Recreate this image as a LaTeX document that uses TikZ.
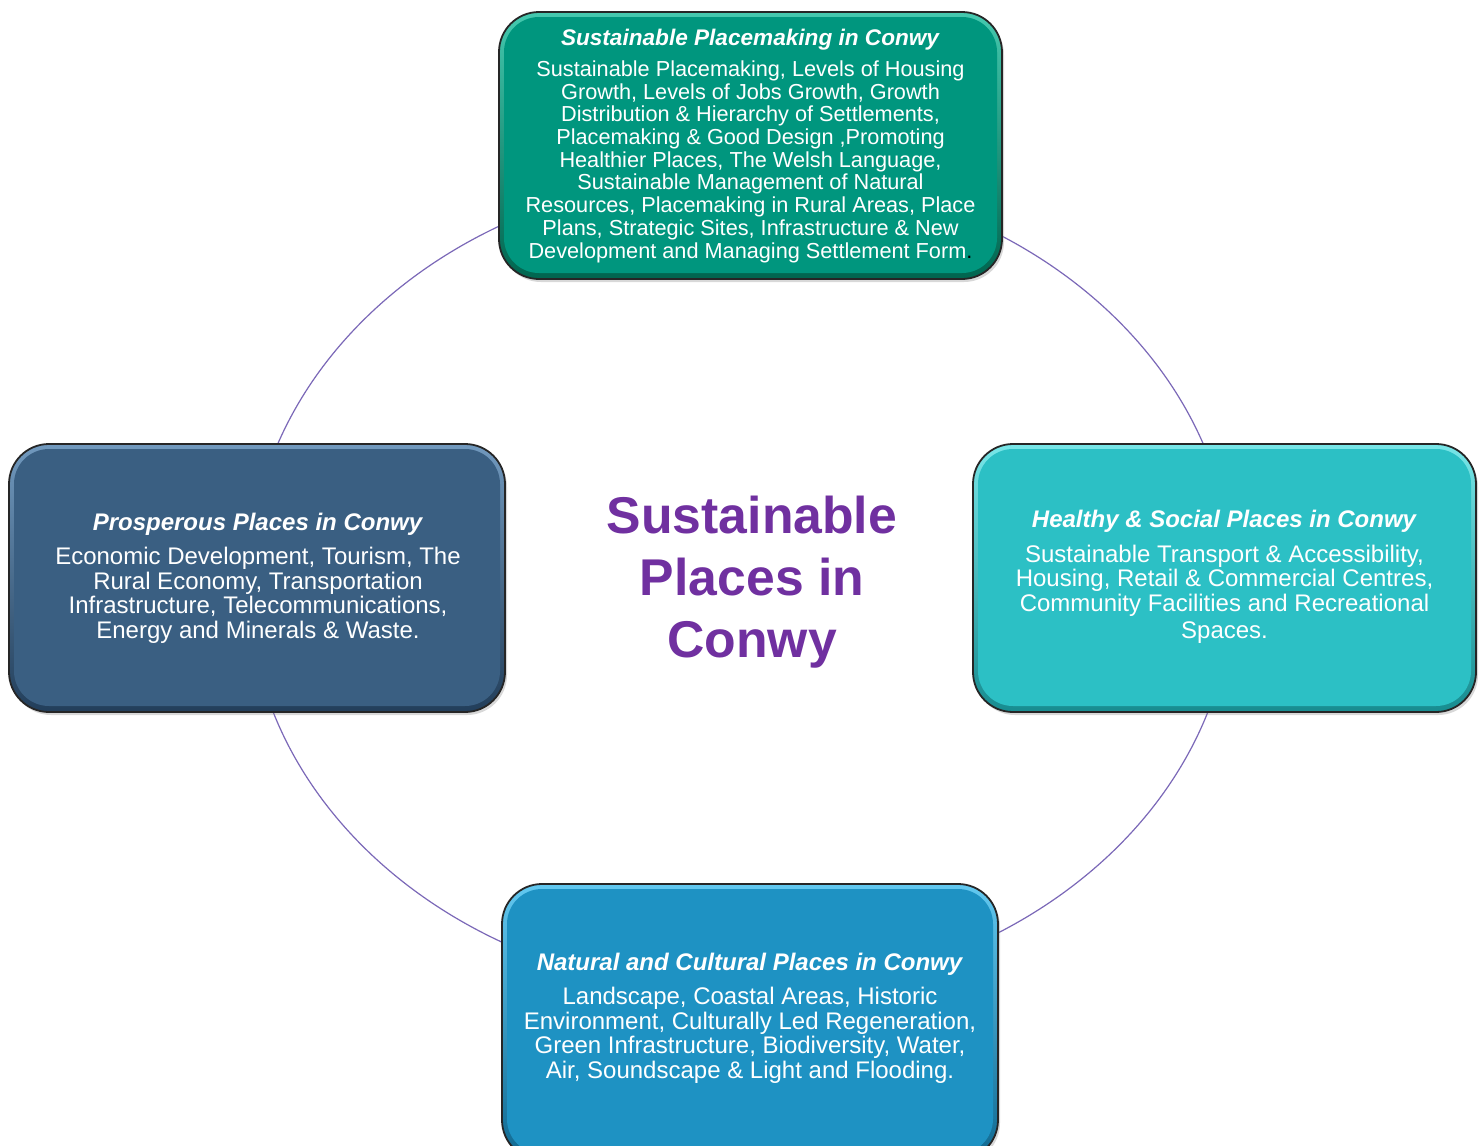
\documentclass[tikz,border=0pt]{standalone}
\usepackage{fontspec}
\setmainfont{Liberation Sans}
\usetikzlibrary{shadows,calc}
\definecolor{topbase}{HTML}{00967E}
\definecolor{toplight}{HTML}{45C9AF}
\definecolor{topdark}{HTML}{00654F}
\definecolor{leftbase}{HTML}{3A5F82}
\definecolor{leftlight}{HTML}{7199BE}
\definecolor{leftdark}{HTML}{223E5A}
\definecolor{rightbase}{HTML}{2CC0C5}
\definecolor{rightlight}{HTML}{78E6E8}
\definecolor{rightdark}{HTML}{178C90}
\definecolor{botbase}{HTML}{1E92C3}
\definecolor{botlight}{HTML}{62C8F0}
\definecolor{botdark}{HTML}{0F6890}
\definecolor{titlepurple}{HTML}{7030A0}
\definecolor{ringline}{HTML}{7B68B8}
\newcommand\boxtitle[1]{\textbf{\textit{#1}}}
\tikzset{
  bevelbox/.style n args={3}{
    rounded corners=40pt, draw=black!85, line width=1.8pt,
    top color=#2, bottom color=#3, inner sep=0pt,
    drop shadow={opacity=0.3, shadow xshift=2pt, shadow yshift=-3pt},
    path picture={\fill[#1, rounded corners=35pt]
      ($(path picture bounding box.north west)+(5pt,-5pt)$) rectangle
      ($(path picture bounding box.south east)+(-5pt,6pt)$);}
  },
  boxtext/.style={text=white, align=center, inner sep=0pt},
  smalltext/.style={font=\fontsize{21.7}{22.7}\selectfont},
  bigtext/.style={font=\fontsize{24}{24.5}\selectfont},
  ring/.style={draw=ringline, line width=1.2pt}
}
\begin{document}
\begin{tikzpicture}[x=1pt,y=-1pt]
\useasboundingbox (0,0) rectangle (1484,1146);
\clip (0,0) rectangle (1484,1146);
\fill[white] (0,0) rectangle (1484,1146);
\coordinate (ringc) at (740.5,583.5);
\draw[ring] (ringc) ellipse [x radius=492pt, y radius=410pt];

\node[bevelbox={topbase}{toplight}{topdark}, minimum width=503pt, minimum height=267pt] (top) at (750.5,145.5) {};
\node[bevelbox={leftbase}{leftlight}{leftdark}, minimum width=496pt, minimum height=268pt] (left) at (257,578) {};
\node[bevelbox={rightbase}{rightlight}{rightdark}, minimum width=503pt, minimum height=268pt] (right) at (1224.5,578) {};
\node[bevelbox={botbase}{botlight}{botdark}, minimum width=496pt, minimum height=276pt] (bottom) at (750,1022) {};

\node[boxtext, smalltext] (toptext) at (750.5,146) {%
{\fontsize{22.6}{22.6}\selectfont\boxtitle{Sustainable Placemaking in Conwy}}\\[8pt]
Sustainable Placemaking, Levels of Housing\\
Growth, Levels of Jobs Growth, Growth\\
Distribution \& Hierarchy of Settlements,\\
Placemaking \& Good Design ,Promoting\\
Healthier Places, The Welsh Language,\\
Sustainable Management of Natural\\
Resources, Placemaking in Rural Areas, Place\\
Plans, Strategic Sites, Infrastructure \& New\\
Development and Managing Settlement Form{\color{black}.}};

\node[boxtext, bigtext] (lefttext) at (258,578) {%
\boxtitle{Prosperous Places in Conwy}\\[10pt]
Economic Development, Tourism, The\\
Rural Economy, Transportation\\
Infrastructure, Telecommunications,\\
Energy and Minerals \& Waste.};

\node[boxtext, bigtext] (righttext) at (1224.5,577) {%
\boxtitle{Healthy \& Social Places in Conwy}\\[10pt]
Sustainable Transport \& Accessibility,\\
Housing, Retail \& Commercial Centres,\\
Community Facilities and Recreational\\[3pt]
Spaces.};

\node[boxtext, bigtext] (bottomtext) at (750,1018) {%
\boxtitle{Natural and Cultural Places in Conwy}\\[10pt]
Landscape, Coastal Areas, Historic\\
Environment, Culturally Led Regeneration,\\
Green Infrastructure, Biodiversity, Water,\\
Air, Soundscape \& Light and Flooding.};

\node[text=titlepurple, align=center, font=\fontsize{51.7}{62}\selectfont\bfseries] (centre) at (752,582) {Sustainable\\Places in\\Conwy};
\end{tikzpicture}
\end{document}
